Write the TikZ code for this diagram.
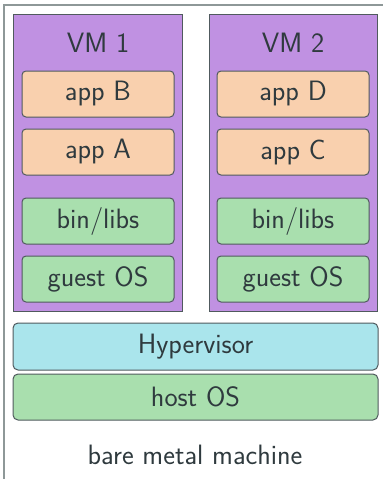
\documentclass[tikz,border=0pt]{standalone}
\usepackage{xcolor}
\definecolor{vmpurple}{HTML}{C091E2}
\definecolor{apppeach}{HTML}{F9D0AE}
\definecolor{osgreen}{HTML}{A9DFAE}
\definecolor{hvcyan}{HTML}{AAE5EC}
\definecolor{edgegray}{HTML}{505A5E}
\definecolor{framegray}{HTML}{8E9898}
\definecolor{txt}{HTML}{2F3A3E}
\tikzset{
  base/.style={draw=edgegray, line width=1pt, text=txt, inner sep=0pt,
    font=\sffamily\fontsize{28}{32}\selectfont},
  vmbox/.style={base, fill=vmpurple, minimum height=297pt},
  layer/.style={base, rounded corners=4pt, minimum width=152pt, minimum height=46pt},
  appbox/.style={layer, fill=apppeach},
  osbox/.style={layer, fill=osgreen},
  wide/.style={base, rounded corners=5pt, minimum width=365pt},
  lbl/.style={text=txt, inner sep=0pt, font=\sffamily\fontsize{28}{32}\selectfont}
}
\begin{document}
\begin{tikzpicture}[x=1pt, y=-1pt]
\useasboundingbox (0,0) rectangle (383,479);
\coordinate (fb) at (4,479);
\coordinate (ftl) at (4,5);
\coordinate (fr) at (383,5);
\draw[framegray, line width=1.6pt] (fb) -- (ftl) -- (fr);
\node[vmbox, minimum width=169pt] (vm1) at (97.5,162.5) {};
\node[vmbox, minimum width=168pt] (vm2) at (293,162.5) {};
\node[lbl] (vm1l) at (98,43) {VM 1};
\node[lbl] (vm2l) at (293,43) {VM 2};
\node[appbox] (appB) at (98,94) {app B};
\node[appbox] (appA) at (98,152) {app A};
\node[osbox] (bin1) at (98,221) {bin/libs};
\node[osbox] (guest1) at (98,279) {guest OS};
\node[appbox] (appD) at (293,94) {app D};
\node[appbox] (appC) at (293,152) {app C};
\node[osbox] (bin2) at (293,221) {bin/libs};
\node[osbox] (guest2) at (293,279) {guest OS};
\node[wide, fill=hvcyan, minimum height=47pt] (hyp) at (195.5,346.5) {Hypervisor};
\node[wide, fill=osgreen, minimum height=46pt] (host) at (195.5,397) {host OS};
\node[lbl] (bare) at (195,455) {bare metal machine};
\end{tikzpicture}
\end{document}
